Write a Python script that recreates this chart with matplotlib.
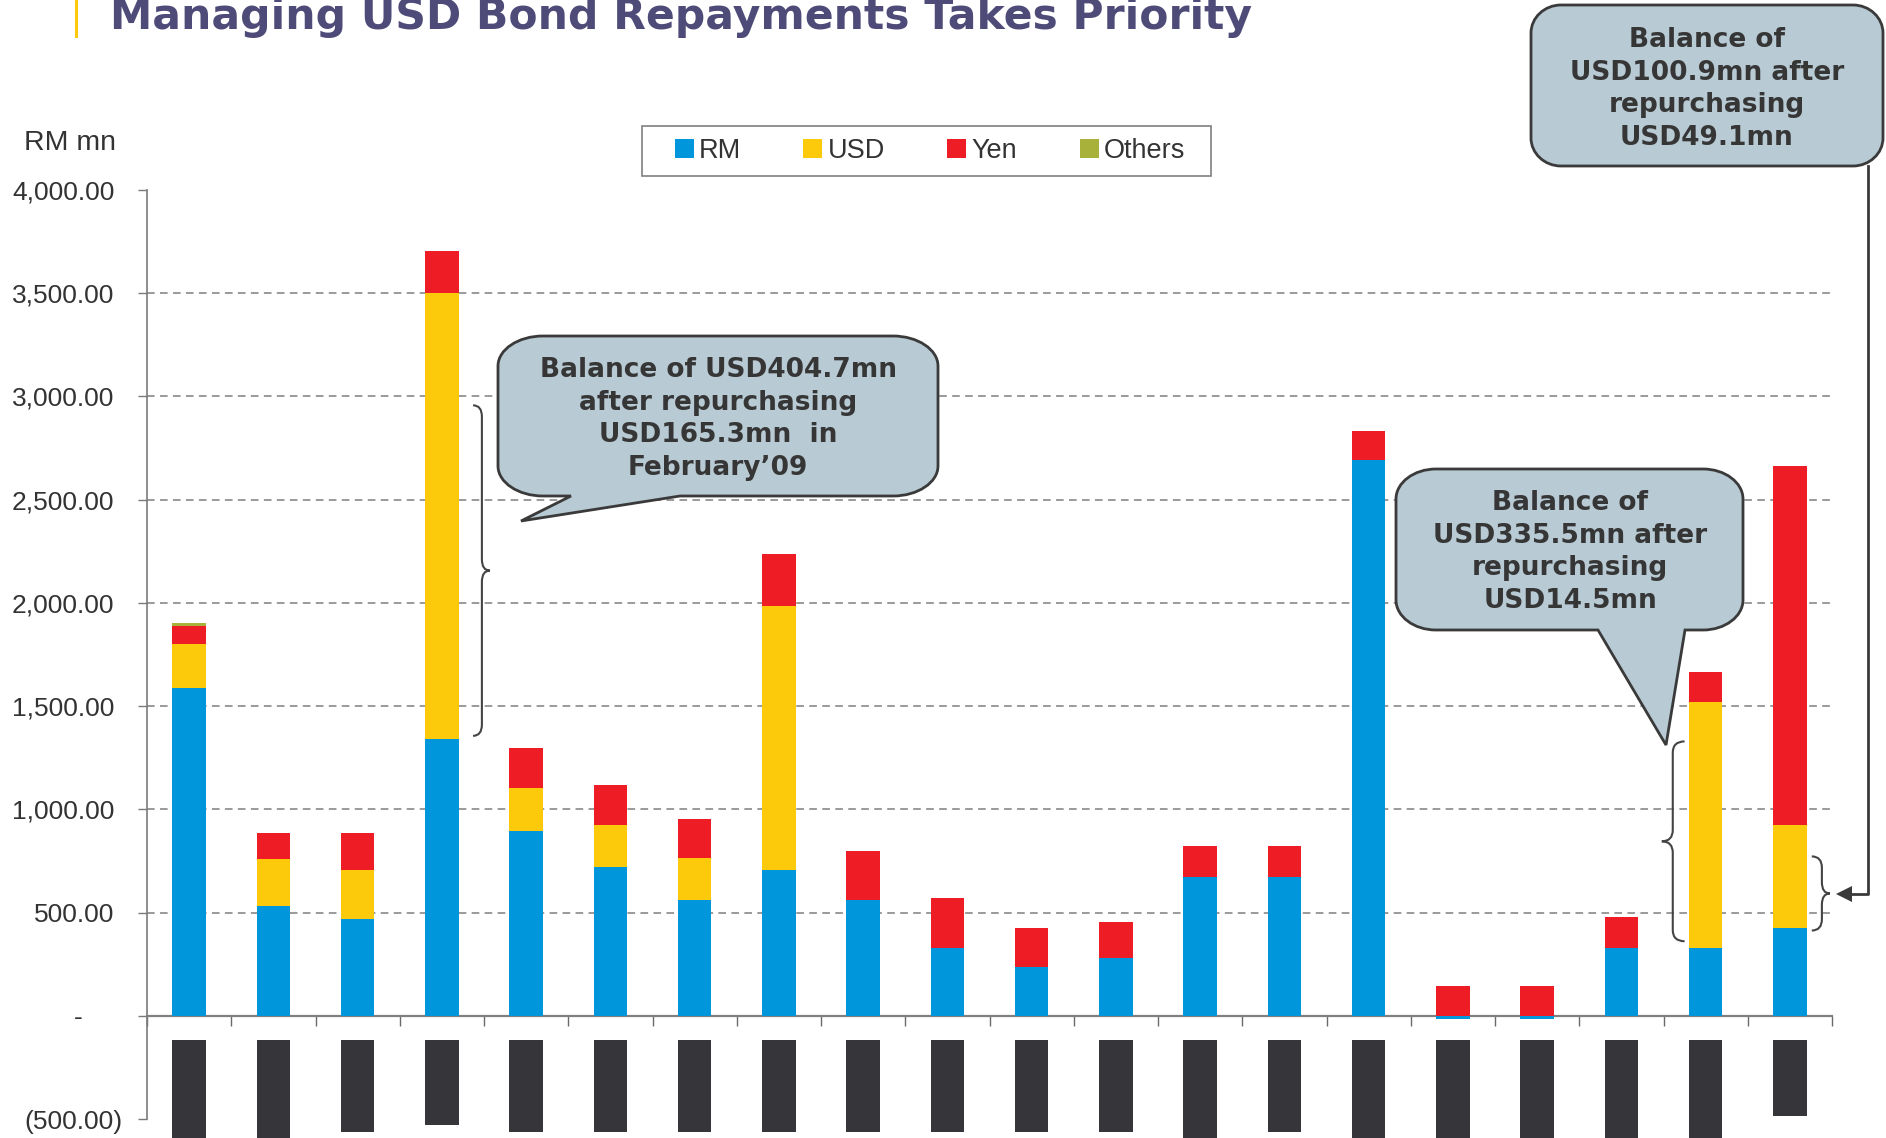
import numpy as np
import matplotlib
matplotlib.use("Agg")
import matplotlib.pyplot as plt
from matplotlib.path import Path
from matplotlib.patches import PathPatch, Rectangle
from matplotlib.transforms import Affine2D, ScaledTranslation

plt.rcParams["font.family"] = ["Liberation Sans", "DejaVu Sans"]

# repayments per period, RM mn, by currency
rm = [1590, 530, 470, 1340, 895, 720, 560, 705, 560, 330,
      235, 280, 670, 670, 2690, -15, -15, 330, 330, 425]
usd = [210, 230, 235, 2160, 210, 205, 205, 1280, 0, 0,
       0, 0, 0, 0, 0, 0, 0, 0, 1190, 500]
yen = [87, 125, 180, 205, 190, 195, 190, 250, 240, 240,
       190, 175, 150, 150, 145, 145, 145, 150, 145, 1740]
others = [17, 0, 0, 0, 0, 0, 0, 0, 0, 0,
          0, 0, 0, 0, 0, 0, 0, 0, 0, 0]

# dark period blocks under the axis
block_top = -117
block_low = [-600, -600, -564, -530, -564, -564, -564, -564, -564, -564,
             -564, -564, -600, -564, -600, -600, -600, -600, -600, -487]

series = [("RM", rm, "#0096db"), ("USD", usd, "#fdca0b"),
          ("Yen", yen, "#ee1c24"), ("Others", others, "#a8b13a")]

yticks = [-500, 0, 500, 1000, 1500, 2000, 2500, 3000, 3500, 4000]
ytick_labels = ["(500.00)", "-", "500.00", "1,000.00", "1,500.00", "2,000.00",
                "2,500.00", "3,000.00", "3,500.00", "4,000.00"]
grid_levels = [500, 1000, 1500, 2000, 2500, 3000, 3500]

W, H = 1886, 1138
fig = plt.figure(figsize=(W / 100, H / 100), dpi=100)
ax = fig.add_axes([147 / W, 1 - 1119 / H, (1832 - 147) / W, (1119 - 190) / H])
# pixel coordinates, origin top-left
pix = Affine2D().scale(1 / W, -1 / H).translate(0, 1) + fig.transFigure

x = np.arange(len(rm))
pos_bottom = np.zeros(len(x))
neg_bottom = np.zeros(len(x))
handles = []
for name, vals, color in series:
    vals = np.array(vals, dtype=float)
    bottom = np.where(vals >= 0, pos_bottom, neg_bottom)
    b = ax.bar(x, vals, 0.4, bottom=bottom, color=color, label=name, zorder=3)
    handles.append(b)
    pos_bottom += np.where(vals > 0, vals, 0)
    neg_bottom += np.where(vals < 0, vals, 0)

ax.bar(x, np.array(block_low) - block_top, 0.4, bottom=block_top,
       color="#36353a", clip_on=False, zorder=3)

ax.hlines(grid_levels, -0.5, 19.5, colors="#7f7f7f", linestyles=(0, (5, 3.5)),
          linewidth=1.1, zorder=1)

ax.set_xlim(-0.5, 19.5)
ax.set_ylim(-500, 4000)
for s in ["top", "right"]:
    ax.spines[s].set_visible(False)
ax.spines["bottom"].set_position(("data", 0))
ax.spines["bottom"].set_color("#808080")
ax.spines["bottom"].set_linewidth(1.6)
ax.spines["left"].set_color("#7a7a7a")
ax.spines["left"].set_linewidth(1.2)

ax.set_xticks(np.arange(-0.5, 20, 1))
ax.set_xticklabels([])
ax.tick_params(axis="x", direction="out", length=7, width=1, color="#6a6a6a")
ax.set_yticks(yticks)
ax.set_yticklabels(ytick_labels)
ax.tick_params(axis="y", direction="out", length=6.5, width=1, color="#7a7a7a",
               labelsize=19, labelcolor="#333333", pad=17)
for lab in ax.get_yticklabels():
    if lab.get_text().startswith("("):
        lab.set_transform(lab.get_transform() + ScaledTranslation(8 / 100, 0, fig.dpi_scale_trans))
    elif lab.get_text() == "-":
        lab.set_transform(lab.get_transform() + ScaledTranslation(-32 / 100, 0, fig.dpi_scale_trans))

fig.text(24, 143, "RM mn", transform=pix, fontsize=20.5, color="#333333",
         va="center", ha="left")

# legend entries without frame, box drawn separately
leg = ax.legend(handles=handles, loc="center", bbox_to_anchor=(0.4647, 1.042),
                ncol=4, fontsize=19.5, handlelength=0.7, handleheight=0.7,
                handletextpad=0.2, columnspacing=2.3, borderpad=0.45,
                frameon=False)
for t in leg.get_texts():
    t.set_color("#333333")
fig.add_artist(Rectangle((642, 126), 1211 - 642, 176 - 126, transform=pix,
                         facecolor="none", edgecolor="#7f7f7f", lw=1.2))

# title, cut at the top edge
fig.text(110, 29, "Managing USD Bond Repayments Takes Priority", transform=pix,
         fontsize=30.6, fontweight="bold", color="#4f4b78", family="DejaVu Sans",
         va="baseline", ha="left")
fig.add_artist(plt.Line2D([76, 76], [0, 36], transform=pix, color="#fdca0b", lw=2.2))


def callout(x0, y0, x1, y1, rx, ry, tail=None):
    k = 0.55
    verts = [(x0 + rx, y0), (x1 - rx, y0),
             (x1 - rx + k * rx, y0), (x1, y0 + ry - k * ry), (x1, y0 + ry),
             (x1, y1 - ry),
             (x1, y1 - ry + k * ry), (x1 - rx + k * rx, y1), (x1 - rx, y1)]
    codes = [Path.MOVETO, Path.LINETO,
             Path.CURVE4, Path.CURVE4, Path.CURVE4,
             Path.LINETO,
             Path.CURVE4, Path.CURVE4, Path.CURVE4]
    if tail is not None:
        bl, br, tx, ty = tail
        verts += [(br, y1), (tx, ty), (bl, y1)]
        codes += [Path.LINETO] * 3
    verts += [(x0 + rx, y1),
              (x0 + rx - k * rx, y1), (x0, y1 - ry + k * ry), (x0, y1 - ry),
              (x0, y0 + ry),
              (x0, y0 + ry - k * ry), (x0 + rx - k * rx, y0), (x0 + rx, y0),
              (x0 + rx, y0)]
    codes += [Path.LINETO,
              Path.CURVE4, Path.CURVE4, Path.CURVE4,
              Path.LINETO,
              Path.CURVE4, Path.CURVE4, Path.CURVE4,
              Path.CLOSEPOLY]
    fig.add_artist(PathPatch(Path(verts, codes), transform=pix, facecolor="#b8cad4",
                             edgecolor="#3a3a3a", lw=2, zorder=5))


def brace(xc, y_lo, y_hi, x_end, x_spine, x_tip, r=55):
    ym = (y_lo + y_hi) / 2
    verts = [(xc + x_end, y_hi), (xc + x_spine, y_hi), (xc + x_spine, y_hi - r),
             (xc + x_spine, ym + r), (xc + x_spine, ym), (xc + x_tip, ym),
             (xc + x_spine, ym), (xc + x_spine, ym - r),
             (xc + x_spine, y_lo + r), (xc + x_spine, y_lo), (xc + x_end, y_lo)]
    codes = [Path.MOVETO, Path.CURVE3, Path.CURVE3,
             Path.LINETO, Path.CURVE3, Path.CURVE3,
             Path.CURVE3, Path.CURVE3,
             Path.LINETO, Path.CURVE3, Path.CURVE3]
    ax.add_patch(PathPatch(Path(verts, codes), facecolor="none", edgecolor="#444444",
                           lw=1.5, clip_on=False, zorder=4))


brace(3, 1356, 2957, 0.37, 0.475, 0.57)
brace(18, 361, 1329, -0.25, -0.39, -0.52)
brace(19, 413, 772, 0.26, 0.38, 0.475)

callout(498, 336, 938, 496, 45, 30, tail=(571, 680, 521, 521))
callout(1396, 469, 1743, 630, 40, 30, tail=(1598, 1685, 1666, 745))
callout(1531, 5, 1883, 166, 30, 28)

txt = dict(transform=pix, fontsize=19, fontweight="bold", color="#363636",
           family="DejaVu Sans", ha="center", va="center", linespacing=1.33, zorder=6)
fig.text(718, 419, "Balance of USD404.7mn\nafter repurchasing\nUSD165.3mn  in\nFebruary\u201909", **txt)
fig.text(1570, 552, "Balance of\nUSD335.5mn after\nrepurchasing\nUSD14.5mn", **txt)
fig.text(1707, 89, "Balance of\nUSD100.9mn after\nrepurchasing\nUSD49.1mn", **txt)

# connector from the top-right note down to the last brace
fig.add_artist(plt.Line2D([1868, 1868, 1850], [166, 894, 894], transform=pix,
                          color="#3a3a3a", lw=2, zorder=5))
fig.add_artist(plt.Polygon([(1836, 894), (1852, 886), (1852, 902)], closed=True,
                           transform=pix, facecolor="#3a3a3a", edgecolor="none", zorder=5))

fig.savefig("out.png", dpi=100)
